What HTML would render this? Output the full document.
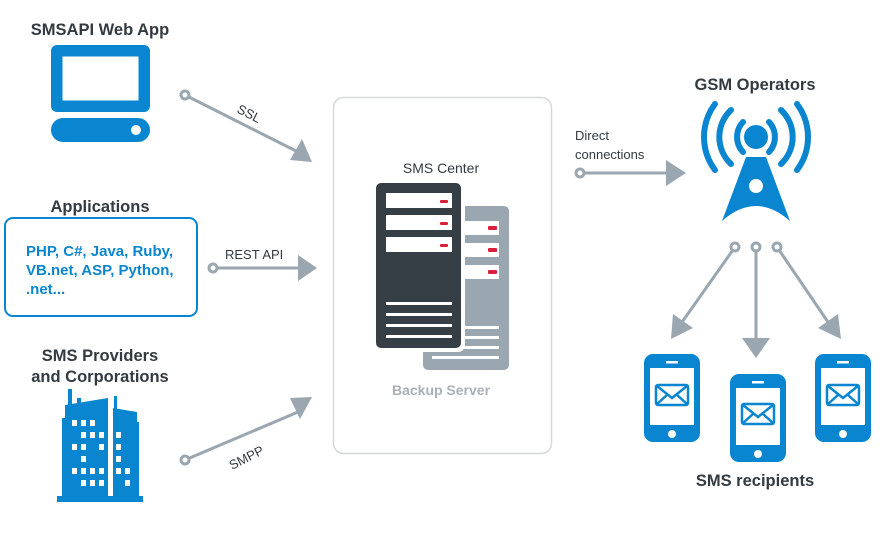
<!DOCTYPE html>
<html><head><meta charset="utf-8"><style>
html,body{margin:0;padding:0;background:#fff;}
svg{display:block;font-family:"Liberation Sans",sans-serif;}
</style></head><body>
<svg width="886" height="540" viewBox="0 0 886 540" xmlns="http://www.w3.org/2000/svg">
<defs>
<g id="env"><rect x="-16" y="-10" width="32" height="20" rx="2" fill="#fff" stroke="#0a86d0" stroke-width="2.5"/><path d="M-15 -9 L0 3 L15 -9 M-15 9 L-5 0 M15 9 L5 0" fill="none" stroke="#0a86d0" stroke-width="2.5"/></g>
</defs>
<rect x="333.5" y="97.5" width="218" height="356" rx="10" fill="#fff" stroke="#d4d9dd" stroke-width="1.5"/>
<g font-size="16.5" font-weight="bold" fill="#333a40" text-anchor="middle">
<text x="100" y="35">SMSAPI Web App</text>
<text x="100" y="212">Applications</text>
<text x="100" y="361">SMS Providers</text>
<text x="100" y="382">and Corporations</text>
<text x="755" y="90">GSM Operators</text>
<text x="755" y="486">SMS recipients</text>
<text x="441" y="173" font-size="14" font-weight="normal">SMS Center</text>
<text x="441" y="395" font-size="14" fill="#a9b0b6">Backup Server</text>
</g>
<rect x="51" y="45" width="99" height="67" rx="6" fill="#0a86d0"/>
<rect x="62" y="56" width="77" height="45" fill="#fff" stroke="#0a86d0" stroke-width="1"/>
<rect x="51" y="118" width="99" height="24" rx="12" fill="#0a86d0"/>
<circle cx="136" cy="130" r="5" fill="#fff"/>
<rect x="5" y="218" width="192" height="98" rx="8" fill="#fff" stroke="#0a86d0" stroke-width="2"/>
<g font-size="15" font-weight="bold" fill="#0a86d0">
<text x="26" y="256">PHP, C#, Java, Ruby,</text>
<text x="26" y="275">VB.net, ASP, Python,</text>
<text x="26" y="294">.net...</text>
</g>
<g fill="#0a86d0">
<rect x="68" y="389" width="4" height="20"/>
<rect x="77" y="398" width="4" height="10"/>
<path d="M65 405 L108 398 L108 500 L65 500 Z"/>
<rect x="62" y="418" width="4" height="80"/>
<rect x="114" y="396" width="3" height="15"/>
<path d="M113 408 L137 412 L137 500 L113 500 Z"/>
<rect x="136" y="422" width="3" height="75"/>
<rect x="57" y="496" width="86" height="6"/>
</g>
<g fill="#fff">
<rect x="72" y="420" width="5" height="6"/><rect x="81" y="420" width="5" height="6"/><rect x="90" y="420" width="5" height="6"/>
<rect x="81" y="432" width="5" height="6"/><rect x="90" y="432" width="5" height="6"/><rect x="99" y="432" width="5" height="6"/>
<rect x="72" y="444" width="5" height="6"/><rect x="81" y="444" width="5" height="6"/><rect x="99" y="444" width="5" height="6"/>
<rect x="81" y="456" width="5" height="6"/>
<rect x="72" y="468" width="5" height="6"/><rect x="81" y="468" width="5" height="6"/><rect x="90" y="468" width="5" height="6"/><rect x="99" y="468" width="5" height="6"/>
<rect x="81" y="480" width="5" height="6"/><rect x="90" y="480" width="5" height="6"/><rect x="99" y="480" width="5" height="6"/>
<rect x="116" y="432" width="5" height="6"/><rect x="116" y="444" width="5" height="6"/><rect x="116" y="456" width="5" height="6"/><rect x="116" y="468" width="5" height="6"/><rect x="125" y="468" width="5" height="6"/><rect x="125" y="480" width="5" height="6"/>
</g>
<g stroke="#9aa6b0" stroke-width="3" fill="#fff">
<line x1="185" y1="95" x2="300" y2="153"/>
<line x1="213" y1="268" x2="300" y2="268"/>
<line x1="185" y1="460" x2="298" y2="412"/>
<line x1="580" y1="173" x2="668" y2="173"/>
<line x1="735" y1="247" x2="680" y2="325"/>
<line x1="756" y1="247" x2="756" y2="340"/>
<line x1="777" y1="247" x2="830" y2="325"/>
<circle cx="185" cy="95" r="4"/><circle cx="213" cy="268" r="4"/><circle cx="185" cy="460" r="4"/><circle cx="580" cy="173" r="4"/>
<circle cx="735" cy="247" r="4"/><circle cx="756" cy="247" r="4"/><circle cx="777" cy="247" r="4"/>
</g>
<g fill="#9aa6b0">
<polygon points="312,162 290,160 302,139"/>
<polygon points="317,268 298,255 298,281"/>
<polygon points="312,397 300,419 290,398"/>
<polygon points="686,173 666,160 666,186"/>
<polygon points="671,339 673,314 693,328"/>
<polygon points="756,358 742,338 770,338"/>
<polygon points="841,339 818,328 838,314"/>
</g>
<g font-size="13" fill="#333a40">
<text transform="translate(236,112) rotate(27)">SSL</text>
<text x="225" y="259">REST API</text>
<text transform="translate(232,470) rotate(-27)">SMPP</text>
<text x="575" y="140">Direct</text>
<text x="575" y="159">connections</text>
</g>
<rect x="423" y="206" width="86" height="164" rx="5" fill="#9aa6b0"/>
<g fill="#fff"><rect x="463" y="221" width="36" height="14"/><rect x="463" y="243" width="36" height="14"/><rect x="463" y="265" width="36" height="14"/>
<rect x="432" y="326" width="67" height="3"/><rect x="432" y="336" width="67" height="3"/><rect x="432" y="346" width="67" height="3"/><rect x="432" y="356" width="67" height="3"/></g>
<rect x="373" y="180" width="92" height="172" rx="7" fill="#fff"/>
<rect x="376" y="183" width="85" height="165" rx="5" fill="#363f45"/>
<g fill="#fff"><rect x="386" y="193" width="66" height="15"/><rect x="386" y="215" width="66" height="15"/><rect x="386" y="237" width="66" height="15"/>
<rect x="386" y="302" width="66" height="3"/><rect x="386" y="313" width="66" height="3"/><rect x="386" y="324" width="66" height="3"/><rect x="386" y="335" width="66" height="3"/></g>
<g fill="#d9203a"><rect x="440" y="200" width="8" height="3" rx="1"/><rect x="440" y="222" width="8" height="3" rx="1"/><rect x="440" y="244" width="8" height="3" rx="1"/>
<rect x="488" y="226" width="9" height="4" rx="1"/><rect x="488" y="248" width="9" height="4" rx="1"/><rect x="488" y="270" width="9" height="4" rx="1"/></g>
<g fill="none" stroke="#0a86d0" stroke-width="6" stroke-linecap="round">
<path d="M743 122 A22 22 0 0 0 743 152"/><path d="M769 122 A22 22 0 0 1 769 152"/>
<path d="M731 110 A37 37 0 0 0 731 164"/><path d="M781 110 A37 37 0 0 1 781 164"/>
<path d="M715 104 A55 55 0 0 0 715 170"/><path d="M797 104 A55 55 0 0 1 797 170"/>
</g>
<circle cx="756" cy="137" r="12" fill="#0a86d0"/>
<path d="M746 157 h20 l24 64 q-34 -30 -68 0z" fill="#0a86d0"/>
<ellipse cx="756" cy="186" rx="7" ry="7" fill="#fff"/>
<g>
<rect x="644" y="354" width="56" height="88" rx="9" fill="#0a86d0"/><rect x="650" y="368" width="44" height="57" fill="#fff"/><rect x="666" y="361" width="12" height="2.5" fill="#fff"/><circle cx="672" cy="434" r="4" fill="#fff"/><use href="#env" x="672" y="395"/>
<rect x="730" y="374" width="56" height="88" rx="9" fill="#0a86d0"/><rect x="736" y="388" width="44" height="57" fill="#fff"/><rect x="752" y="381" width="12" height="2.5" fill="#fff"/><circle cx="758" cy="454" r="4" fill="#fff"/><use href="#env" x="758" y="414"/>
<rect x="815" y="354" width="56" height="88" rx="9" fill="#0a86d0"/><rect x="821" y="368" width="44" height="57" fill="#fff"/><rect x="837" y="361" width="12" height="2.5" fill="#fff"/><circle cx="843" cy="434" r="4" fill="#fff"/><use href="#env" x="843" y="395"/>
</g>
</svg>
</body></html>
